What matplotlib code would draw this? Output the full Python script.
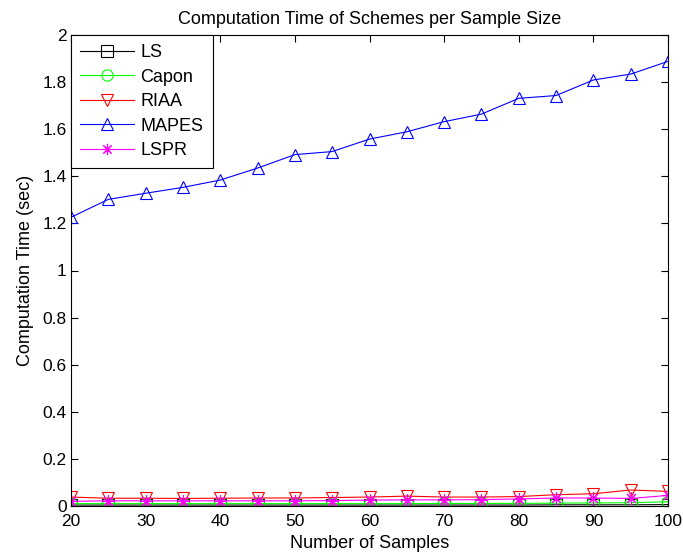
import numpy as np
import matplotlib.pyplot as plt

plt.rcParams['font.family'] = ['Liberation Sans', 'DejaVu Sans']

# Sample sizes and computation time (sec) for each scheme
n_samples = np.arange(20, 101, 5)
t_ls = [0.004, 0.004, 0.004, 0.004, 0.004, 0.004, 0.004, 0.004, 0.004,
        0.004, 0.004, 0.004, 0.004, 0.005, 0.005, 0.005, 0.006]
t_capon = [0.010, 0.010, 0.010, 0.010, 0.010, 0.010, 0.010, 0.010, 0.010,
           0.010, 0.011, 0.011, 0.011, 0.012, 0.013, 0.014, 0.018]
t_riaa = [0.038, 0.033, 0.033, 0.032, 0.033, 0.034, 0.034, 0.036, 0.038,
          0.042, 0.038, 0.038, 0.040, 0.048, 0.052, 0.068, 0.062]
t_mapes = [1.226, 1.302, 1.328, 1.353, 1.384, 1.435, 1.492, 1.505, 1.558,
           1.589, 1.632, 1.664, 1.731, 1.743, 1.809, 1.834, 1.888]
t_lspr = [0.020, 0.022, 0.022, 0.022, 0.022, 0.022, 0.022, 0.023, 0.025,
          0.026, 0.026, 0.027, 0.030, 0.034, 0.034, 0.032, 0.045]

fig = plt.figure(figsize=(6.83, 5.58), dpi=100)
ax = fig.add_axes([71 / 683, 1 - 506 / 558, 597 / 683, 471 / 558])

mk = dict(markersize=9, markerfacecolor='none', linewidth=0.8, markeredgewidth=0.8)
ax.plot(n_samples, t_ls, color='k', marker='s', label='LS', **mk)
ax.plot(n_samples, t_capon, color='#00ff00', marker='o', label='Capon', **mk)
ax.plot(n_samples, t_riaa, color='r', marker='v', label='RIAA', **mk)
ax.plot(n_samples, t_mapes, color='b', marker='^', label='MAPES', **mk)
ax.plot(n_samples, t_lspr, color='#ff00ff', marker=(8, 2, 0), label='LSPR', **mk)

ax.set_xlim(20, 100)
ax.set_ylim(0, 2)
ax.set_xticks(np.arange(20, 101, 10))
ax.set_yticks(np.arange(0, 2.01, 0.2))
ax.set_yticklabels(['0', '0.2', '0.4', '0.6', '0.8', '1', '1.2', '1.4', '1.6', '1.8', '2'])
ax.tick_params(direction='in', top=True, right=True, labelsize=12.5, length=5, width=0.8)
ax.tick_params(axis='x', pad=6)
ax.tick_params(axis='y', pad=3)
for s in ax.spines.values():
    s.set_linewidth(0.8)

ax.set_xlabel('Number of Samples', fontsize=13, labelpad=4)
ax.set_ylabel('Computation Time (sec)', fontsize=13, labelpad=6)
ax.set_title('Computation Time of Schemes per Sample Size', fontsize=13, pad=8)

leg = ax.legend(loc='upper left', fontsize=13, fancybox=False, framealpha=1,
                edgecolor='k', borderaxespad=0, handlelength=3.0, labelspacing=0.42,
                numpoints=1, borderpad=0.5, handletextpad=0.35, markerscale=0.9)
leg.get_frame().set_linewidth(0.8)

fig.savefig('out.png', dpi=100)
